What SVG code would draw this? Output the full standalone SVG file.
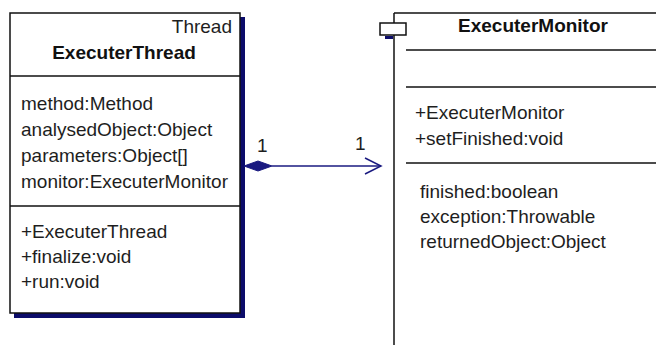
<svg xmlns="http://www.w3.org/2000/svg" width="656" height="345" viewBox="0 0 656 345">
  <defs>
    <style>
      .txt { font-family: "Liberation Sans", Arial, sans-serif; font-size: 19px; fill: #1e1e1e; }
      .bold { font-weight: bold; fill: #111; }
      .box { fill: #ffffff; stroke: #111; stroke-width: 1.5; }
      .sep { stroke: #111; stroke-width: 1.5; fill: none; }
      .shadow { fill: #0c0c6a; }
      .conn { stroke: #1a1a80; stroke-width: 1.5; fill: none; }
    </style>
  </defs>
  <rect width="656" height="345" fill="#ffffff"/>

  <!-- ExecuterThread class -->
  <g id="executer-thread">
    <rect class="shadow" x="14" y="17" width="231" height="301"/>
    <rect class="box" x="10" y="13" width="230" height="300"/>
    <line class="sep" x1="10" y1="76" x2="240" y2="76"/>
    <line class="sep" x1="10" y1="206" x2="240" y2="206"/>
    <text class="txt" x="232" y="33" text-anchor="end">Thread</text>
    <text class="txt bold" x="124" y="59" text-anchor="middle">ExecuterThread</text>
    <text class="txt" x="21" y="110">method:Method</text>
    <text class="txt" x="21" y="136">analysedObject:Object</text>
    <text class="txt" x="21" y="162">parameters:Object[]</text>
    <text class="txt" x="21" y="188">monitor:ExecuterMonitor</text>
    <text class="txt" x="21" y="238">+ExecuterThread</text>
    <text class="txt" x="21" y="263">+finalize:void</text>
    <text class="txt" x="21" y="288">+run:void</text>
  </g>

  <!-- ExecuterMonitor class (extends past the right edge) -->
  <g id="executer-monitor">
    <line class="sep" x1="394" y1="13" x2="656" y2="13"/>
    <line class="sep" x1="394" y1="13" x2="394" y2="345"/>
    <rect class="shadow" x="385" y="36" width="8" height="3"/>
    <rect class="box" x="380" y="23" width="26" height="12"/>
    <line class="sep" x1="406" y1="50" x2="656" y2="50"/>
    <line class="sep" x1="406" y1="87" x2="656" y2="87"/>
    <line class="sep" x1="406" y1="163" x2="656" y2="163"/>
    <text class="txt bold" x="533" y="32" text-anchor="middle">ExecuterMonitor</text>
    <text class="txt" x="415" y="119">+ExecuterMonitor</text>
    <text class="txt" x="415" y="145">+setFinished:void</text>
    <text class="txt" x="420" y="198">finished:boolean</text>
    <text class="txt" x="420" y="223">exception:Throwable</text>
    <text class="txt" x="420" y="248">returnedObject:Object</text>
  </g>

  <!-- composition association -->
  <g id="connectors">
    <line class="conn" x1="272" y1="166" x2="381" y2="166"/>
    <polygon points="244,166 258,161 272,166 258,171" fill="#1a1a80" stroke="#1a1a80" stroke-width="1"/>
    <polyline class="conn" points="365,158 381,166 365,174"/>
    <text class="txt" x="257" y="152">1</text>
    <text class="txt" x="355" y="150">1</text>
  </g>
</svg>
